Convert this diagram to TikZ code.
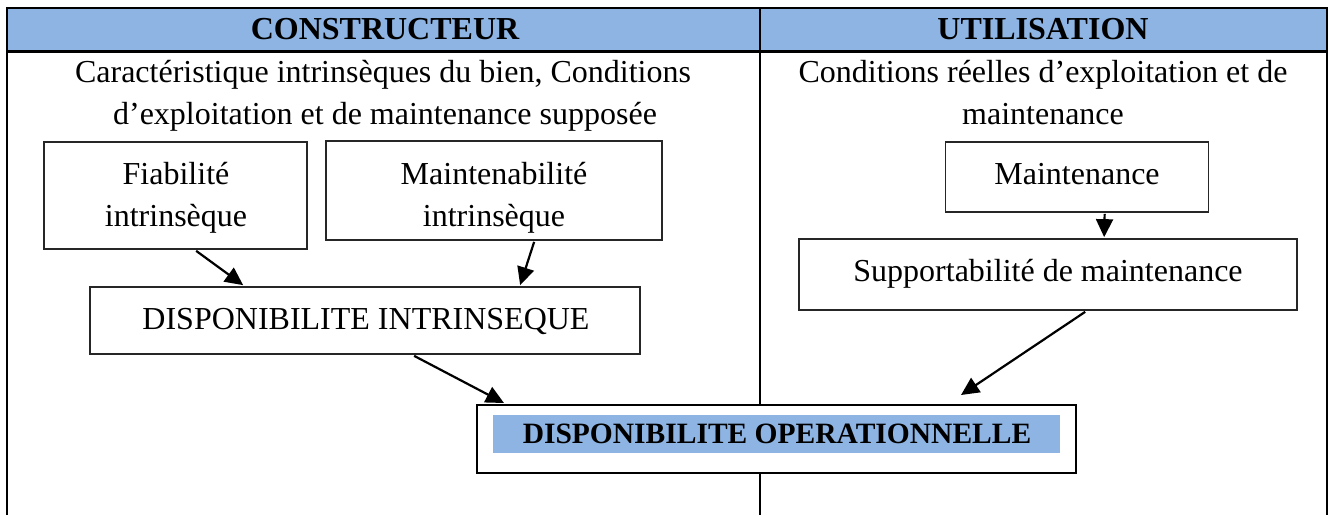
\documentclass[tikz,border=0pt]{standalone}
\usepackage{fontspec}
\setmainfont{Liberation Serif}
\usetikzlibrary{arrows.meta,calc}
\definecolor{headblue}{RGB}{141,180,226}
\tikzset{
  frameline/.style={line width=2.6pt, black},
  stepbox/.style={draw=black!85, line width=1.7pt, fill=white, rectangle, inner sep=0pt},
  txt/.style={anchor=base, inner sep=0pt, font=\fontsize{32}{42}\selectfont},
  headtxt/.style={anchor=base, inner sep=0pt, font=\fontsize{32}{40}\selectfont\bfseries},
  flow/.style={line width=2.2pt, -{Triangle[length=18pt,width=17pt]}},
}
\begin{document}
\begin{tikzpicture}[x=1pt, y=-1pt]
\useasboundingbox (0,0) rectangle (1329,515);
% header band and table rules
\fill[headblue] (7,8) rectangle (1327,51.5);
\draw[frameline] (7,515) -- (7,8) -- (1327,8) -- (1327,515);
\draw[frameline] (7,51.5) -- (1327,51.5);
\draw[frameline] (760,8) -- (760,515);

% column headings
\node[headtxt] (hcons) at (385,39) {CONSTRUCTEUR};
\node[headtxt] (hutil) at (1043,39) {UTILISATION};

% column descriptions
\node[txt] (dcons1) at (383,82) {Caractéristique intrinsèques du bien, Conditions};
\node[txt] (dcons2) at (385,124) {d’exploitation et de maintenance supposée};
\node[txt] (dutil1) at (1043,82) {Conditions réelles d’exploitation et de};
\node[txt] (dutil2) at (1043,124) {maintenance};

% boxes
\node[stepbox, minimum width=263pt, minimum height=107pt] (fiab) at (175.5,195.5) {};
\node[stepbox, minimum width=336pt, minimum height=99pt] (maint) at (494,190.5) {};
\node[stepbox, minimum width=263pt, minimum height=70pt] (mtce) at (1077,177) {};
\node[stepbox, minimum width=498pt, minimum height=71pt] (supp) at (1048,274.5) {};
\node[stepbox, minimum width=550pt, minimum height=67pt] (dint) at (365,320.5) {};
\node[stepbox, line width=2pt, draw=black, minimum width=599pt, minimum height=68pt] (dop) at (776.5,439) {};
\fill[headblue] (493,415) rectangle (1060,453);

% box texts
\node[txt] (tfiab1) at (176,184) {Fiabilité};
\node[txt] (tfiab2) at (176,226) {intrinsèque};
\node[txt] (tmaint1) at (494,184) {Maintenabilité};
\node[txt] (tmaint2) at (494,226) {intrinsèque};
\node[txt] (tmtce) at (1077,184) {Maintenance};
\node[txt] (tsupp) at (1048,281) {Supportabilité de maintenance};
\node[txt] (tdint) at (366,329) {DISPONIBILITE INTRINSEQUE};
\node[anchor=base, inner sep=0pt, font=\fontsize{29.5}{36}\selectfont\bfseries] (tdop) at (777,443) {DISPONIBILITE OPERATIONNELLE};

% connectors
\draw[flow] ($(fiab.south west)+(153,1)$) -- ($(dint.north west)+(154,-1)$);
\draw[flow] ($(maint.south west)+(209,1)$) -- ($(dint.north west)+(431,-1)$);
\draw[flow] ($(mtce.south west)+(160,1)$) -- ($(supp.north west)+(306,-1)$);
\draw[flow] ($(dint.south west)+(325,1)$) -- ($(dop.north west)+(28,-1)$);
\draw[flow] ($(supp.south west)+(287,1)$) -- ($(dop.north west)+(485,-9)$);
\end{tikzpicture}
\end{document}
